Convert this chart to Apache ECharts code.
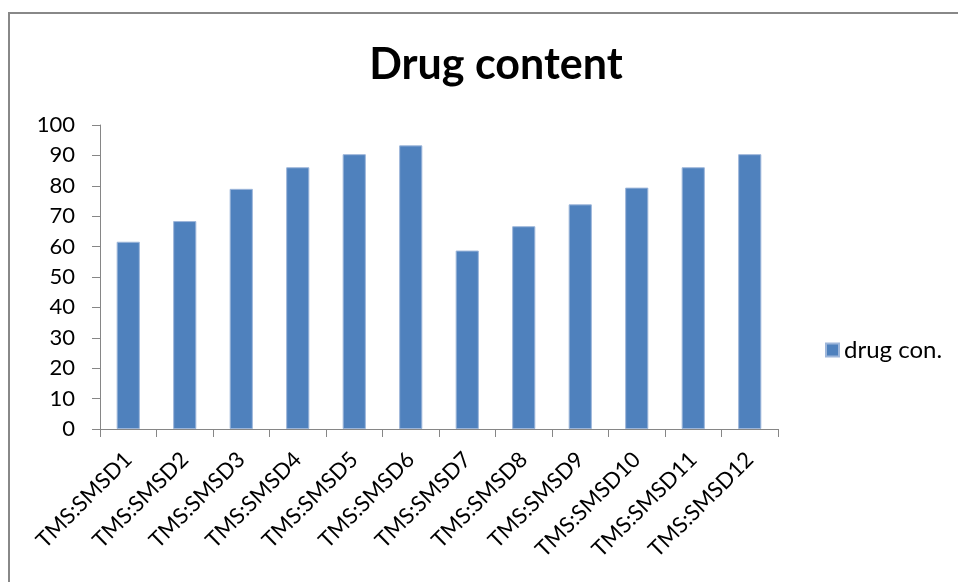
<!DOCTYPE html>
<html>
<head>
<meta charset="utf-8">
<script src="https://cdn.jsdelivr.net/npm/echarts@6/dist/echarts.min.js"></script>
<style>
  html, body { margin: 0; padding: 0; background: #fff; }
  #chart { width: 958px; height: 582px; }
</style>
</head>
<body>
<div id="chart"></div>
<script>
// Drug content per formulation
const categories = ['TMS:SMSD1', 'TMS:SMSD2', 'TMS:SMSD3', 'TMS:SMSD4', 'TMS:SMSD5', 'TMS:SMSD6',
                    'TMS:SMSD7', 'TMS:SMSD8', 'TMS:SMSD9', 'TMS:SMSD10', 'TMS:SMSD11', 'TMS:SMSD12'];
const drugCon = [61.6, 68.4, 79.0, 86.1, 90.4, 93.3, 58.7, 66.7, 73.9, 79.4, 86.1, 90.4];
const yTicks = [0, 10, 20, 30, 40, 50, 60, 70, 80, 90, 100];

const FONT = 'Lato, "Open Sans", sans-serif';
const AXIS_GREY = '#868686';

const chart = echarts.init(document.getElementById('chart'), null, { renderer: 'canvas' });

chart.setOption({
  backgroundColor: '#ffffff',
  animation: false,
  title: {
    text: 'Drug content',
    left: 491,
    top: 39,
    textAlign: 'center',
    textStyle: { fontFamily: FONT, fontWeight: 'bold', fontSize: 43, color: '#000' }
  },
  graphic: [{
    type: 'rect',
    shape: { x: 9, y: 13, width: 1000, height: 700 },
    style: { fill: 'none', stroke: '#888888', lineWidth: 2 },
    silent: true
  }],
  legend: {
    left: 820,
    top: 333,
    orient: 'vertical',
    icon: 'rect',
    itemWidth: 13,
    itemHeight: 13,
    itemGap: 8,
    textStyle: { fontFamily: FONT, fontSize: 24, color: '#000' },
    data: ['drug con.']
  },
  grid: { left: 100, right: 180, top: 125, bottom: 153, containLabel: false },
  xAxis: {
    type: 'category',
    data: categories,
    boundaryGap: true,
    axisLine: { lineStyle: { color: AXIS_GREY, width: 1 } },
    axisTick: { show: true, alignWithLabel: false, length: 8, lineStyle: { color: AXIS_GREY } },
    axisLabel: {
      interval: 0,
      rotate: 45,
      margin: 27,
      fontFamily: FONT,
      fontSize: 22,
      color: '#000'
    },
    splitLine: { show: false }
  },
  yAxis: {
    type: 'value',
    min: yTicks[0],
    max: yTicks[yTicks.length - 1],
    interval: yTicks[1] - yTicks[0],
    axisLine: { show: true, lineStyle: { color: AXIS_GREY, width: 1 } },
    axisTick: { show: true, length: 8, lineStyle: { color: AXIS_GREY } },
    axisLabel: { margin: 25, fontFamily: FONT, fontSize: 22, color: '#000' },
    splitLine: { show: false }
  },
  series: [{
    name: 'drug con.',
    type: 'bar',
    data: drugCon,
    barWidth: '41%',
    itemStyle: { color: '#4F81BD', borderColor: '#9DB6DA', borderWidth: 1 }
  }]
});
</script>
</body>
</html>
